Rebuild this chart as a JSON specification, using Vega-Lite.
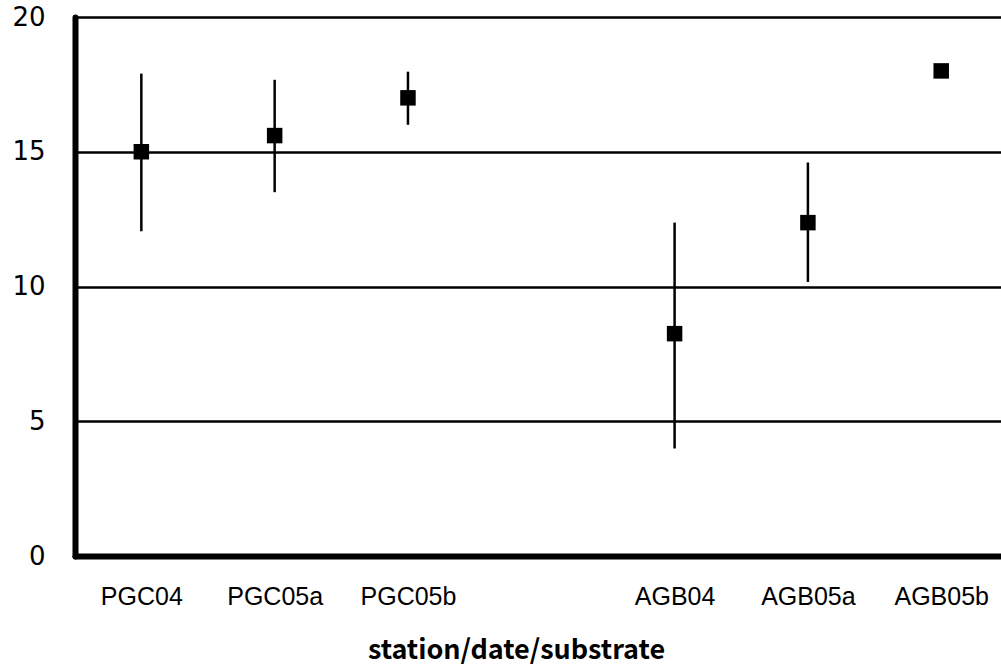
{
  "$schema": "https://vega.github.io/schema/vega-lite/v6.json",
  "width": 926,
  "height": 539,
  "autosize": {"type": "none"},
  "padding": {"left": 75, "top": 17, "right": 0, "bottom": 110},
  "background": "white",
  "config": {"view": {"stroke": null}},
  "data": {
    "values": [
      {"station": "PGC04", "mean": 15.0, "lo": 12.05, "hi": 17.9},
      {"station": "PGC05a", "mean": 15.6, "lo": 13.5, "hi": 17.67},
      {"station": "PGC05b", "mean": 17.0, "lo": 16.0, "hi": 17.97},
      {"station": "AGB04", "mean": 8.25, "lo": 3.99, "hi": 12.37},
      {"station": "AGB05a", "mean": 12.37, "lo": 10.17, "hi": 14.6},
      {"station": "AGB05b", "mean": 18.0, "lo": null, "hi": null}
    ]
  },
  "encoding": {
    "x": {
      "field": "station",
      "type": "nominal",
      "sort": null,
      "scale": {
        "type": "point",
        "domain": ["PGC04", "PGC05a", "PGC05b", "", "AGB04", "AGB05a", "AGB05b"],
        "padding": 0.473,
        "align": 0.526
      },
      "axis": {
        "title": "station/date/substrate",
        "titleFont": "Noto Sans CJK JP",
        "titleFontSize": 27,
        "titleFontWeight": "bold",
        "titleColor": "black",
        "titleX": 441,
        "titleAlign": "center",
        "titlePadding": 28,
        "labelFont": "Liberation Sans",
        "labelFontSize": 25,
        "labelColor": "black",
        "labelAngle": 0,
        "labelPadding": 28,
        "ticks": false,
        "tickSize": 0,
        "domainColor": "black",
        "domainWidth": 6,
        "domainCap": "round",
        "grid": false
      }
    }
  },
  "layer": [
    {
      "transform": [{"filter": "datum.lo != null"}],
      "mark": {"type": "rule", "color": "black", "strokeWidth": 2.5},
      "encoding": {
        "y": {
          "field": "lo",
          "type": "quantitative",
          "scale": {"domain": [0, 20], "nice": false},
          "axis": {
            "title": null,
            "values": [0, 5, 10, 15, 20],
            "labelFont": "DejaVu Sans",
            "labelFontSize": 26,
            "labelColor": "black",
            "labelPadding": 30,
            "labelBound": false,
            "ticks": false,
            "tickSize": 0,
            "domainColor": "black",
            "domainWidth": 6,
            "domainCap": "round",
            "grid": true,
            "gridColor": "black",
            "gridWidth": 2.5,
            "gridOpacity": 1
          }
        },
        "y2": {"field": "hi"}
      }
    },
    {
      "mark": {"type": "point", "shape": "square", "filled": true, "color": "black", "opacity": 1, "size": 240},
      "encoding": {
        "y": {"field": "mean", "type": "quantitative"}
      }
    }
  ]
}
